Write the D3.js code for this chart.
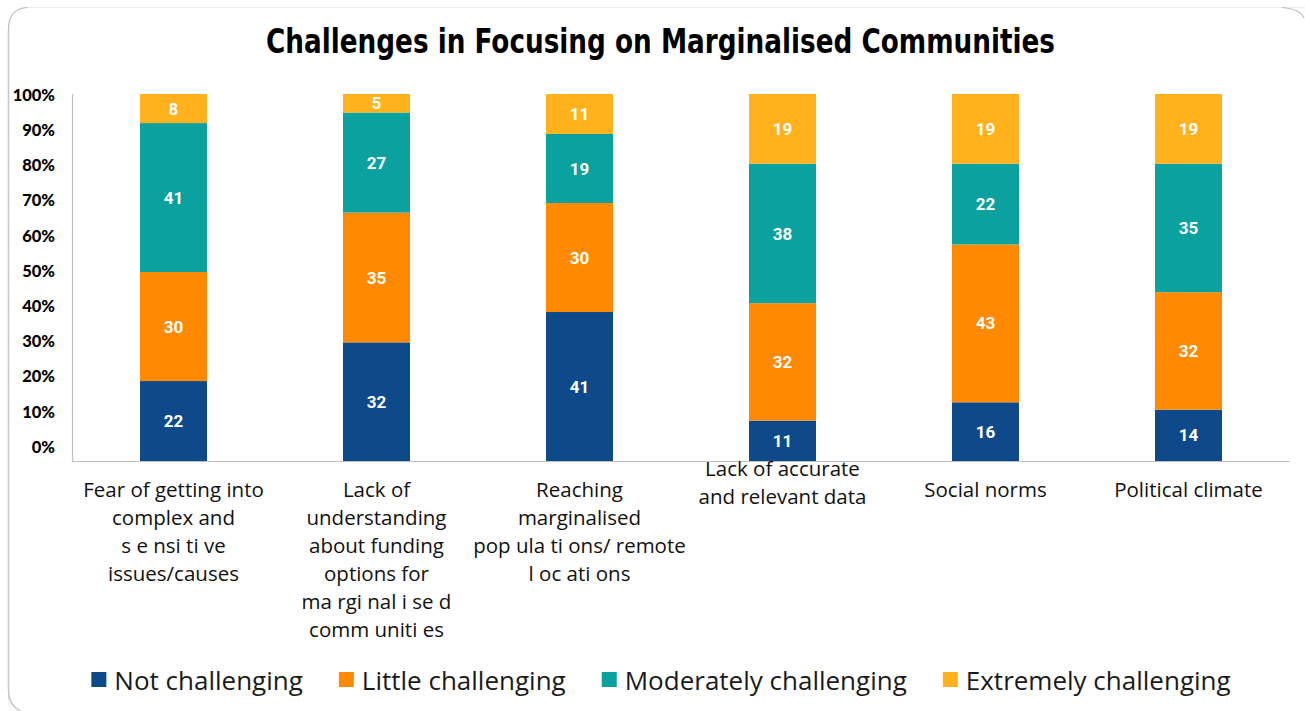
<!DOCTYPE html>
<html>
<head>
<meta charset="utf-8">
<script src="https://cdn.jsdelivr.net/npm/d3@7"></script>
<style>
  html, body { margin: 0; padding: 0; background: #fff; }
  svg { display: block; }
</style>
</head>
<body>
<svg id="chart" width="1305" height="711"></svg>
<script>
// Survey categories, each label split into its printed lines
const categories = [
  "Fear of getting into complex and sensitive issues/causes",
  "Lack of understanding about funding options for marginalised communities",
  "Reaching marginalised populations/ remote locations",
  "Lack of accurate and relevant data",
  "Social norms",
  "Political climate"
];
const categoryLines = [
  ["Fear of getting into", "complex and", "s e nsi ti ve", "issues/causes"],
  ["Lack of", "understanding", "about funding", "options for", "ma rgi nal i se d", "comm uniti es"],
  ["Reaching", "marginalised", "pop ula ti ons/ remote", "l oc ati ons"],
  ["Lack of accurate", "and relevant data"],
  ["Social norms"],
  ["Political climate"]
];

// Responses (percent of respondents) per level of challenge
const seriesNames = ["Not challenging", "Little challenging", "Moderately challenging", "Extremely challenging"];
const notChallenging        = [22, 32, 41, 11, 16, 14];
const littleChallenging     = [30, 35, 30, 32, 43, 32];
const moderatelyChallenging = [41, 27, 19, 38, 22, 35];
const extremelyChallenging  = [8, 5, 11, 19, 19, 19];
const seriesColors = ["#0E4A8A", "#FF8A00", "#0AA19E", "#FFB21C"];

const yTicks = [0, 0.1, 0.2, 0.3, 0.4, 0.5, 0.6, 0.7, 0.8, 0.9, 1.0];

const seriesValues = [notChallenging, littleChallenging, moderatelyChallenging, extremelyChallenging];
const rows = categories.map((c, i) => {
  const r = { category: c };
  seriesNames.forEach((s, k) => { r[s] = seriesValues[k][i]; });
  return r;
});

const svg = d3.select("#chart");

// Card frame
svg.append("rect")
  .attr("x", 8.5).attr("y", 7.5)
  .attr("width", 1310).attr("height", 712)
  .attr("rx", 18).attr("ry", 18)
  .attr("fill", "#fff")
  .attr("stroke", "#ececec").attr("stroke-width", 1);
svg.append("path")
  .attr("d", "M8.5,30 L8.5,690 Q8.5,705 20,711")
  .attr("fill", "none").attr("stroke", "#c8c8c8").attr("stroke-width", 1.6);
svg.append("path")
  .attr("d", "M8.5,30 Q8.5,8 28,7.5")
  .attr("fill", "none").attr("stroke", "#bdbdbd").attr("stroke-width", 1.2);
svg.append("path")
  .attr("d", "M1282,7.5 Q1300,9 1304,18")
  .attr("fill", "none").attr("stroke", "#bdbdbd").attr("stroke-width", 1.2);

// Title
svg.append("text")
  .attr("x", 660.5).attr("y", 53)
  .attr("text-anchor", "middle")
  .attr("font-family", "'Liberation Sans Narrow', 'DejaVu Sans Condensed', 'Roboto', sans-serif")
  .attr("font-weight", 700)
  .attr("font-size", 33)
  .attr("textLength", 789)
  .attr("lengthAdjust", "spacingAndGlyphs")
  .attr("fill", "#000")
  .text("Challenges in Focusing on Marginalised Communities");

// Scales
const x = d3.scaleBand()
  .domain(categories)
  .range([72, 1290])
  .paddingInner(0.67)
  .paddingOuter(0.335);

const y = d3.scaleLinear().domain([0, 1]).range([461, 94]);
// the percentage labels sit on their own slightly tighter ladder
const yLabel = d3.scaleLinear().domain([0, 1]).range([447, 95]);

// Normalised stacking (each bar fills 100%)
const stack = d3.stack().keys(seriesNames).offset(d3.stackOffsetExpand);
const layers = stack(rows);

const g = svg.append("g");
layers.forEach((layer, k) => {
  const lg = g.append("g").attr("fill", seriesColors[k]);
  lg.selectAll("rect")
    .data(layer)
    .join("rect")
    .attr("x", d => x(d.data.category))
    .attr("width", x.bandwidth())
    .attr("y", d => y(d[1]))
    .attr("height", d => y(d[0]) - y(d[1]));
});

// Value labels inside segments
layers.forEach((layer, k) => {
  g.append("g").selectAll("text")
    .data(layer)
    .join("text")
    .attr("x", d => x(d.data.category) + x.bandwidth() / 2)
    .attr("y", d => (y(d[0]) + y(d[1])) / 2)
    .attr("dy", "0.36em")
    .attr("text-anchor", "middle")
    .attr("font-family", "Roboto, 'Liberation Sans', sans-serif")
    .attr("font-weight", 700)
    .attr("font-size", 17)
    .attr("fill", "#fff")
    .text(d => d.data[seriesNames[k]]);
});

// Axis lines
svg.append("line")
  .attr("x1", 72.5).attr("x2", 72.5)
  .attr("y1", y(1)).attr("y2", y(0))
  .attr("stroke", "#bfbfbf").attr("stroke-width", 1.2);
svg.append("line")
  .attr("x1", 72).attr("x2", 1290)
  .attr("y1", y(0) + 0.5).attr("y2", y(0) + 0.5)
  .attr("stroke", "#bfbfbf").attr("stroke-width", 1.2);

// Y tick labels
const yAxis = svg.append("g")
  .attr("transform", "translate(58,0)")
  .call(d3.axisLeft(yLabel).tickValues(yTicks).tickSize(0).tickPadding(3).tickFormat(d3.format(".0%")));
yAxis.select(".domain").remove();
yAxis.selectAll("text")
  .attr("font-family", "Lato, 'Open Sans', sans-serif")
  .attr("font-weight", 900)
  .attr("font-size", 16.5)
  .attr("fill", "#000");

// Category labels
const catG = svg.append("g")
  .attr("font-family", "'Open Sans', 'Noto Sans', sans-serif")
  .attr("font-size", 20.5)
  .attr("fill", "#111")
  .attr("text-anchor", "middle");
categories.forEach((c, i) => {
  const lines = categoryLines[i];
  const top = lines.length === 2 ? 476 : 497;
  const t = catG.append("text")
    .attr("x", x(c) + x.bandwidth() / 2)
    .attr("y", top);
  lines.forEach((ln, j) => {
    t.append("tspan")
      .attr("x", x(c) + x.bandwidth() / 2)
      .attr("y", top + j * 28)
      .text(ln);
  });
});

// Legend
const legend = svg.append("g");
const legendFont = 26;
const items = seriesNames.map((name, k) => {
  const it = legend.append("g");
  it.append("rect")
    .attr("width", 15).attr("height", 15)
    .attr("y", 672)
    .attr("fill", seriesColors[k]);
  const txt = it.append("text")
    .attr("x", 23).attr("y", 690)
    .attr("font-family", "'Open Sans', 'Noto Sans', sans-serif")
    .attr("font-size", legendFont)
    .attr("fill", "#1a1a1a")
    .text(name);
  return { g: it, w: 23 + txt.node().getComputedTextLength() };
});
const gap = 36;
const total = d3.sum(items, d => d.w) + gap * (items.length - 1);
let cx = 661 - total / 2;
items.forEach(it => {
  it.g.attr("transform", `translate(${cx},0)`);
  cx += it.w + gap;
});
</script>
</body>
</html>
